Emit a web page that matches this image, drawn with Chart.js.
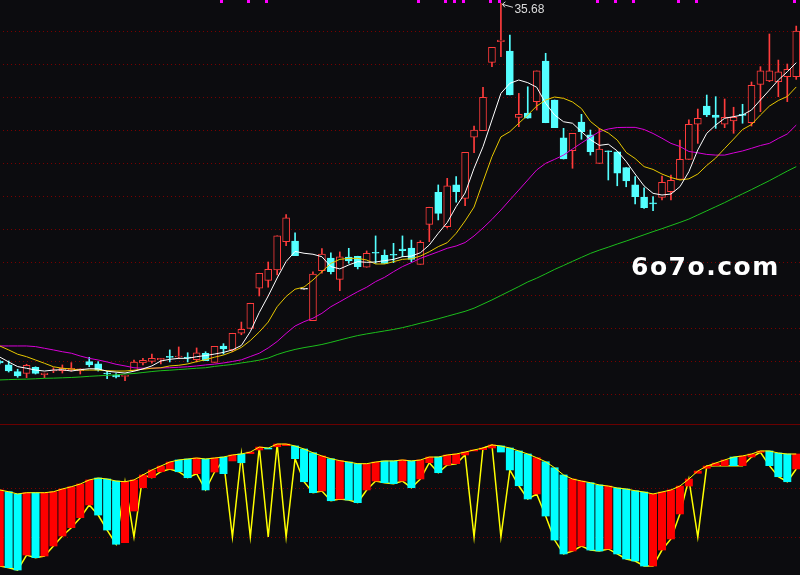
<!DOCTYPE html>
<html>
<head>
<meta charset="utf-8">
<script src="https://cdn.jsdelivr.net/npm/chart.js@4.4.0/dist/chart.umd.min.js"></script>
<style>
  html, body { margin: 0; padding: 0; background: #0c0c0f; }
  #wrap { position: relative; width: 800px; height: 575px; background: #0c0c0f; overflow: hidden; }
  #top { position: absolute; left: 0; top: 0; }
  #sep { position: absolute; left: 0; top: 424px; width: 800px; height: 1px; background: #6a0000; }
  #bot { position: absolute; left: 0; top: 425px; }
  #site { position: absolute; left: 631px; top: 254px; color: #ffffff; font: bold 25px "DejaVu Sans"; letter-spacing: 1.5px; line-height: 25px; white-space: nowrap; }
</style>
</head>
<body>
<div id="wrap">
  <canvas id="top" width="800" height="424"></canvas>
  <div id="sep"></div>
  <canvas id="bot" width="800" height="150"></canvas>
  <div id="site">6o7o.com</div>
</div>
<script>
// daily candles, oldest first
const open = [14.00,13.76,13.35,13.25,13.62,13.17,13.39,13.41,13.47,13.41,
  13.96,13.82,13.23,13.13,13.07,13.41,13.88,13.98,14.06,14.28,
  14.24,14.22,14.08,14.47,13.92,14.91,14.67,15.68,15.98,18.41,
  18.89,19.52,21.23,21.27,18.35,16.44,19.47,20.24,18.95,20.30,
  20.35,19.68,20.56,20.41,20.44,20.79,20.85,19.86,22.28,24.22,
  22.14,24.67,23.86,27.56,27.96,32.10,33.35,32.79,28.77,29.03,
  29.72,32.18,29.82,27.53,26.75,28.48,27.70,25.98,26.73,26.68,
  25.72,24.67,23.94,23.56,23.92,24.26,25.01,26.22,28.35,29.45,
  28.91,28.35,28.55,28.95,28.44,30.77,30.97,30.93,31.23,31.23];
const close = [13.88,13.39,13.09,13.74,13.25,13.27,13.44,13.56,13.56,13.52,
  13.76,13.45,13.21,13.03,13.13,13.94,14.04,14.16,14.16,14.22,
  14.28,14.18,14.49,14.02,14.89,14.73,15.68,15.92,17.50,19.32,
  19.56,21.58,22.67,20.38,18.35,19.27,20.48,19.41,20.32,20.06,
  19.72,20.53,20.53,19.92,20.41,20.69,20.16,21.19,23.32,22.95,
  24.61,24.26,26.65,28.00,29.98,33.01,33.45,30.12,28.95,28.71,
  31.58,28.44,28.14,26.24,27.80,27.90,26.68,26.85,26.68,25.38,
  24.91,23.96,23.29,23.52,24.83,24.95,26.22,28.35,28.71,28.91,
  28.77,28.77,28.77,28.89,30.71,31.58,31.58,31.52,31.68,34.00];
const high = [14.06,14.00,13.50,13.80,13.65,13.27,13.59,13.76,13.90,13.52,
  14.22,13.96,13.39,13.23,13.13,14.06,14.16,14.42,14.16,14.67,
  14.85,14.50,14.79,14.56,14.89,15.05,15.68,16.36,17.50,19.32,
  20.00,21.58,22.87,21.76,18.35,19.41,20.81,20.56,20.61,20.83,
  20.35,20.67,21.58,20.73,21.13,21.58,21.33,21.29,23.32,24.67,
  25.07,25.17,26.65,28.24,30.59,33.01,35.68,33.76,30.22,30.62,
  31.58,32.65,29.82,28.10,27.80,28.95,28.00,28.10,26.73,26.68,
  25.72,25.17,24.50,23.96,25.21,25.27,27.39,28.61,29.27,30.12,
  30.02,29.88,29.38,29.56,30.91,31.84,33.82,32.24,32.00,34.30];
const low = [13.82,13.33,13.01,12.99,13.21,12.99,13.29,13.27,13.39,13.21,
  13.65,13.39,12.93,12.97,12.81,13.41,13.76,13.86,13.82,13.94,
  14.14,13.94,13.94,14.02,13.92,14.42,14.56,15.59,15.98,17.94,
  18.47,19.21,20.99,20.38,18.35,16.44,19.32,19.27,18.26,19.92,
  19.58,19.68,19.92,19.92,19.96,20.32,20.02,19.86,21.23,22.55,
  22.06,23.62,23.41,26.62,27.96,31.84,32.44,30.12,28.20,28.71,
  29.21,28.44,28.14,26.24,25.68,27.44,26.48,25.98,24.97,24.62,
  24.56,23.52,23.25,23.11,23.76,23.76,25.01,26.22,27.19,28.81,
  28.10,28.14,27.80,28.41,28.24,29.11,30.93,30.02,29.72,31.07];

// moving averages
const ma5 = [14.24,13.94,13.66,13.56,13.45,13.39,13.45,13.47,13.39,13.47,
  13.53,13.52,13.38,13.32,13.27,13.38,13.52,13.70,14.00,14.10,
  14.16,14.16,14.26,14.33,14.42,14.52,14.67,14.94,15.78,16.94,
  17.94,19.03,20.03,20.64,20.53,20.47,20.32,19.72,19.58,19.82,
  20.02,19.98,20.00,20.08,20.16,20.32,20.36,20.56,21.03,21.74,
  22.39,23.36,24.18,25.68,26.99,28.61,30.22,30.83,31.03,30.87,
  30.59,29.62,28.91,28.50,28.41,27.90,27.42,27.07,27.14,26.73,
  26.09,25.33,24.61,24.16,24.06,24.12,24.56,25.47,26.79,27.80,
  28.30,28.71,28.81,28.91,29.21,29.82,30.42,31.03,31.53,32.08];
const ma10 = [14.91,14.67,14.41,14.26,14.06,13.86,13.65,13.56,13.52,13.45,
  13.45,13.45,13.41,13.39,13.39,13.44,13.50,13.56,13.59,13.70,
  13.74,13.82,13.96,14.08,14.23,14.36,14.56,14.82,15.24,15.76,
  16.36,17.29,17.91,18.35,18.48,18.91,19.41,19.92,20.16,20.22,
  20.22,20.12,19.88,19.88,20.02,20.16,20.20,20.36,20.62,20.93,
  21.17,21.74,22.49,23.33,24.87,26.38,27.58,27.90,28.41,28.91,
  29.45,29.82,30.00,29.92,29.70,29.30,28.52,28.09,27.82,27.39,
  26.64,26.27,25.78,25.61,25.33,25.12,24.97,25.04,25.33,25.85,
  26.30,26.88,27.45,28.03,28.33,28.91,29.45,29.79,30.03,30.61];
const ma20 = [14.91,14.91,14.91,14.91,14.87,14.77,14.67,14.56,14.47,14.30,
  14.16,14.06,13.94,13.80,13.70,13.59,13.56,13.56,13.58,13.59,
  13.62,13.65,13.70,13.76,13.81,13.88,13.97,14.07,14.27,14.47,
  14.79,15.18,15.67,16.12,16.38,16.59,16.89,17.29,17.59,17.90,
  18.20,18.47,18.81,19.07,19.41,19.72,19.96,20.22,20.42,20.62,
  20.83,20.97,21.18,21.58,22.06,22.58,23.15,23.76,24.36,24.97,
  25.58,25.98,26.22,26.48,26.85,27.21,27.56,27.90,28.06,28.15,
  28.16,28.16,28.03,27.79,27.50,27.19,27.00,26.70,26.62,26.52,
  26.48,26.48,26.61,26.73,26.89,27.06,27.19,27.49,27.76,28.30];
const ma60 = [12.85,12.87,12.89,12.90,12.92,12.95,12.96,12.98,13.00,13.03,
  13.07,13.10,13.13,13.16,13.21,13.24,13.30,13.36,13.41,13.44,
  13.48,13.52,13.56,13.59,13.67,13.73,13.79,13.88,13.96,14.05,
  14.18,14.39,14.56,14.70,14.81,14.90,15.00,15.13,15.27,15.41,
  15.54,15.64,15.73,15.82,15.91,16.02,16.15,16.29,16.42,16.56,
  16.71,16.86,17.01,17.20,17.45,17.70,17.97,18.24,18.51,18.79,
  19.02,19.28,19.55,19.79,20.04,20.28,20.52,20.72,20.90,21.09,
  21.27,21.46,21.65,21.84,22.02,22.21,22.40,22.60,22.85,23.10,
  23.35,23.60,23.87,24.13,24.39,24.66,24.93,25.22,25.51,25.78];

// candles that carry a signal flag on the top edge
const markIdx = [25, 28, 30, 47, 50, 51, 52, 55, 56, 67, 69, 71, 76, 78, 89];

// lower indicator: bar top, bar bottom, colour (1 red / 0 cyan), zigzag line
const histTop = [48.0,46.2,43.9,45.2,45.2,45.2,46.2,49.0,51.3,54.1,
  58.2,60.2,59.2,57.1,56.4,58.2,63.3,68.4,72.4,76.5,
  78.6,79.6,80.6,79.6,80.6,81.6,83.7,84.7,86.7,91.8,
  90.8,94.9,94.9,92.9,89.8,86.0,82.7,79.9,77.9,76.5,
  74.8,74.8,76.5,77.6,77.6,78.6,77.6,78.6,81.6,81.6,
  83.7,84.7,86.7,88.8,90.8,93.9,92.9,90.8,87.8,84.7,
  80.9,76.8,70.7,63.3,59.2,57.1,55.4,53.1,52.0,50.0,
  49.0,47.2,45.9,43.9,45.9,48.0,52.0,59.2,67.3,72.4,
  75.5,78.6,81.6,82.7,84.7,87.8,87.8,85.7,84.7,84.7];
const histBot = [-29.6,-31.3,-33.7,-18.4,-21.1,-19.4,-9.2,1.0,9.5,19.7,
  32.7,22.4,7.1,-7.4,-5.8,26.5,50.3,60.5,66.6,69.4,
  66.6,60.5,64.6,48.0,66.3,64.6,77.6,75.8,85.0,88.8,
  89.8,92.1,93.2,79.9,56.4,45.2,46.9,37.0,38.8,37.8,
  35.0,48.0,57.1,55.4,54.4,57.1,50.3,59.2,75.8,65.6,
  73.5,74.8,83.7,87.8,89.1,90.8,86.7,68.4,52.3,38.8,
  43.9,21.4,-3.1,-17.3,-14.3,-9.2,-13.3,-14.3,-12.2,-17.3,
  -22.4,-24.5,-29.6,-29.6,-13.3,-2.0,23.5,52.0,65.0,70.1,
  72.8,72.8,72.8,72.8,81.6,86.4,72.8,61.5,56.4,69.4];
const histUp = [1,0,0,1,0,1,1,1,1,1,
  1,0,0,0,1,1,1,1,1,1,
  0,0,1,0,1,0,1,0,1,1,
  0,1,1,0,0,0,1,0,1,0,
  0,1,1,0,0,1,0,1,1,0,
  1,1,1,1,1,1,0,0,0,0,
  1,0,0,0,1,1,0,0,1,0,
  0,0,0,1,1,1,1,1,1,1,
  1,1,0,1,1,1,0,0,0,1];
const histLine = [-29.6,-31.3,-33.7,-18.4,-21.1,-19.4,-9.2,1.0,9.5,19.7,
  32.7,22.4,7.1,-7.4,56.1,0,63.3,60.5,66.6,69.4,
  66.6,60.5,64.6,48.0,66.3,78.6,0,84.7,0,91.8,
  0,94.9,0,79.9,56.4,45.2,46.9,37.0,38.8,37.8,
  35.0,48.0,57.1,55.4,54.4,57.1,50.3,59.2,75.8,65.6,
  73.5,74.8,83.7,0,90.8,93.9,0,68.4,52.3,38.8,
  43.9,21.4,-3.1,-17.3,-14.3,-9.2,-13.3,-14.3,-12.2,-17.3,
  -22.4,-24.5,-29.6,-29.6,-13.3,-2.0,23.5,59.2,0,72.4,
  72.8,72.8,72.8,72.8,81.6,86.4,72.8,61.5,56.4,69.4];

// grid levels
const priceGrid = [12, 14, 16, 18, 20, 22, 24, 26, 28, 30, 32, 34];
const histGrid = [0, 50];

const BG = '#0c0c0f';
const UP = '#ff3c3c', DOWN = '#54ffff', FLAT = '#ffffff';
const GRID = '#7a0000';

const pts = arr => arr.map((v, i) => ({ x: i, y: v }));
const candleCol = open.map((o, i) => close[i] > o ? UP : close[i] < o ? DOWN : FLAT);
const bodyFill = open.map((o, i) => close[i] > o ? BG : candleCol[i]);

const xAxis = { type: 'linear', min: 0.03, max: 89.42, offset: false, display: false, grid: { offset: false } };
const yAxis = (min, max) => ({ min, max, display: false });

// dotted horizontal grid, one dot every 4 px
const dotGrid = levels => ({
  id: 'dotGrid',
  beforeDatasetsDraw(chart) {
    const { ctx, chartArea, scales: { y } } = chart;
    ctx.save();
    ctx.strokeStyle = GRID;
    ctx.lineWidth = 1;
    ctx.setLineDash([1, 3]);
    levels.forEach(v => {
      const py = Math.round(y.getPixelForValue(v)) + 0.5;
      ctx.beginPath();
      ctx.moveTo(chartArea.left + 3, py);
      ctx.lineTo(chartArea.right, py);
      ctx.stroke();
    });
    ctx.restore();
  }
});

const common = {
  responsive: false,
  animation: false,
  devicePixelRatio: 1,
  layout: { padding: 0 },
  plugins: { legend: { display: false }, tooltip: { enabled: false } }
};

// little magenta flags along the top edge
const signalMarks = {
  id: 'signalMarks',
  afterDatasetsDraw(chart) {
    const { ctx, chartArea, scales: { x } } = chart;
    ctx.save();
    ctx.fillStyle = '#ff00ff';
    markIdx.forEach(i => {
      const px = Math.round(x.getPixelForValue(i));
      ctx.fillRect(px - 3, chartArea.top, 3, 3);
    });
    ctx.restore();
  }
};

// highest price with its pointer
const highLabel = {
  id: 'highLabel',
  afterDatasetsDraw(chart) {
    const { ctx, scales: { x, y } } = chart;
    let k = 0;
    high.forEach((v, i) => { if (v > high[k]) k = i; });
    const px = x.getPixelForValue(k), py = y.getPixelForValue(high[k]);
    ctx.save();
    ctx.strokeStyle = '#dcdcdc';
    ctx.lineWidth = 1;
    ctx.beginPath();
    ctx.moveTo(px + 1.5, py + 1); ctx.lineTo(px + 12, py + 4);
    ctx.moveTo(px + 1.5, py + 1); ctx.lineTo(px + 4.5, py - 1.5);
    ctx.moveTo(px + 1.5, py + 1); ctx.lineTo(px + 4, py + 4);
    ctx.stroke();
    ctx.fillStyle = '#dcdcdc';
    ctx.font = '12px "Liberation Sans", Arial, sans-serif';
    ctx.textBaseline = 'alphabetic';
    ctx.fillText(high[k].toFixed(2), px + 13.5, py + 9.5);
    ctx.restore();
  }
};

new Chart(document.getElementById('top'), {
  data: {
    datasets: [
      { type: 'line', data: pts(ma5), borderColor: '#ffffff', borderWidth: 1, pointRadius: 0, order: 1 },
      { type: 'line', data: pts(ma10), borderColor: '#e8c800', borderWidth: 1, pointRadius: 0, order: 2 },
      { type: 'line', data: pts(ma20), borderColor: '#d800d8', borderWidth: 1, pointRadius: 0, order: 3 },
      { type: 'line', data: pts(ma60), borderColor: '#1cbf1c', borderWidth: 1, pointRadius: 0, order: 4 },
      {
        type: 'bar', data: open.map((o, i) => ({ x: i, y: [o, close[i]] })),
        backgroundColor: bodyFill, borderColor: candleCol, borderWidth: 1, borderSkipped: false,
        barThickness: 7, minBarLength: 1, grouped: false, order: 5
      },
      {
        type: 'bar', data: low.map((l, i) => ({ x: i, y: [l, high[i]] })),
        backgroundColor: candleCol, borderWidth: 0, barThickness: 1, grouped: false, order: 6
      }
    ]
  },
  options: {
    ...common,
    scales: { x: xAxis, y: yAxis(10.18, 35.88) }
  },
  plugins: [dotGrid(priceGrid), signalMarks, highLabel]
});

new Chart(document.getElementById('bot'), {
  data: {
    datasets: [
      { type: 'line', data: pts(histTop), borderColor: '#ffff00', borderWidth: 1, pointRadius: 0, order: 0 },
      {
        type: 'bar', data: histTop.map((t, i) => ({ x: i, y: [histBot[i], t] })),
        backgroundColor: histUp.map(u => u ? '#ff0000' : '#00ffff'),
        borderWidth: 0, barThickness: 7.3, grouped: false, order: 1
      },
      { type: 'line', data: pts(histLine), borderColor: '#ffff00', borderWidth: 1.5, pointRadius: 0, order: 2 }
    ]
  },
  options: {
    ...common,
    scales: { x: xAxis, y: yAxis(-38.78, 114.29) }
  },
  plugins: [dotGrid(histGrid)]
});
</script>
</body>
</html>
